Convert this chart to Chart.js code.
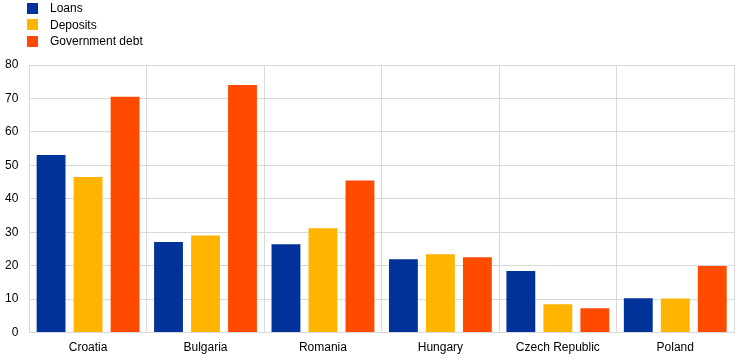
<!DOCTYPE html>
<html>
<head>
<meta charset="utf-8">
<script src="https://cdn.jsdelivr.net/npm/chart.js@4"></script>
<style>
  body { margin: 0; background: #fff; }
  #wrap { position: relative; width: 744px; height: 360px; }
  #legend { position: absolute; left: 27px; top: 0px; font-family: "Liberation Sans", Arial, sans-serif; font-size: 12px; color: #000; }
  #legend div { height: 16.5px; line-height: 16.5px; display: flex; align-items: center; }
  #legend span.box { width: 11px; height: 11px; margin-right: 12px; display: inline-block; }
</style>
</head>
<body>
<div id="wrap">
  <canvas id="chart" width="744" height="360"></canvas>
  <div id="legend"></div>
</div>
<script>
const categories = ['Croatia', 'Bulgaria', 'Romania', 'Hungary', 'Czech Republic', 'Poland'];
const loans = [53.1, 27.1, 26.4, 21.9, 18.4, 10.3];
const deposits = [46.5, 29.0, 31.2, 23.4, 8.5, 10.2];
const govDebt = [70.5, 74.0, 45.5, 22.5, 7.3, 19.9];
const seriesNames = ['Loans', 'Deposits', 'Government debt'];
const seriesColors = ['#003299', '#FFB400', '#FF4B00'];

const font = { family: '"Liberation Sans", Arial, sans-serif', size: 12 };

const ctx = document.getElementById('chart');
const chart = new Chart(ctx, {
  type: 'bar',
  data: {
    labels: categories,
    datasets: [loans, deposits, govDebt].map((d, i) => ({
      label: seriesNames[i],
      data: d,
      backgroundColor: seriesColors[i],
      categoryPercentage: 0.945,
      barPercentage: 0.78
    }))
  },
  options: {
    responsive: false,
    animation: false,
    layout: { padding: { top: 65, right: 10, left: -6, bottom: -3 } },
    scales: {
      x: {
        grid: { color: '#d9d9d9', drawTicks: false },
        border: { color: '#d9d9d9' },
        ticks: { color: '#000', font: font, padding: 8 }
      },
      y: {
        min: 0,
        max: 80,
        ticks: { stepSize: 10, color: '#000', font: font, padding: 11 },
        grid: { color: '#d9d9d9', drawTicks: false },
        border: { color: '#d9d9d9' }
      }
    },
    plugins: {
      legend: { display: false },
      tooltip: { enabled: false }
    }
  }
});

// vertical legend like the original
const legendEl = document.getElementById('legend');
chart.data.datasets.forEach(ds => {
  const row = document.createElement('div');
  const box = document.createElement('span');
  box.className = 'box';
  box.style.background = ds.backgroundColor;
  row.appendChild(box);
  row.appendChild(document.createTextNode(ds.label));
  legendEl.appendChild(row);
});
</script>
</body>
</html>
